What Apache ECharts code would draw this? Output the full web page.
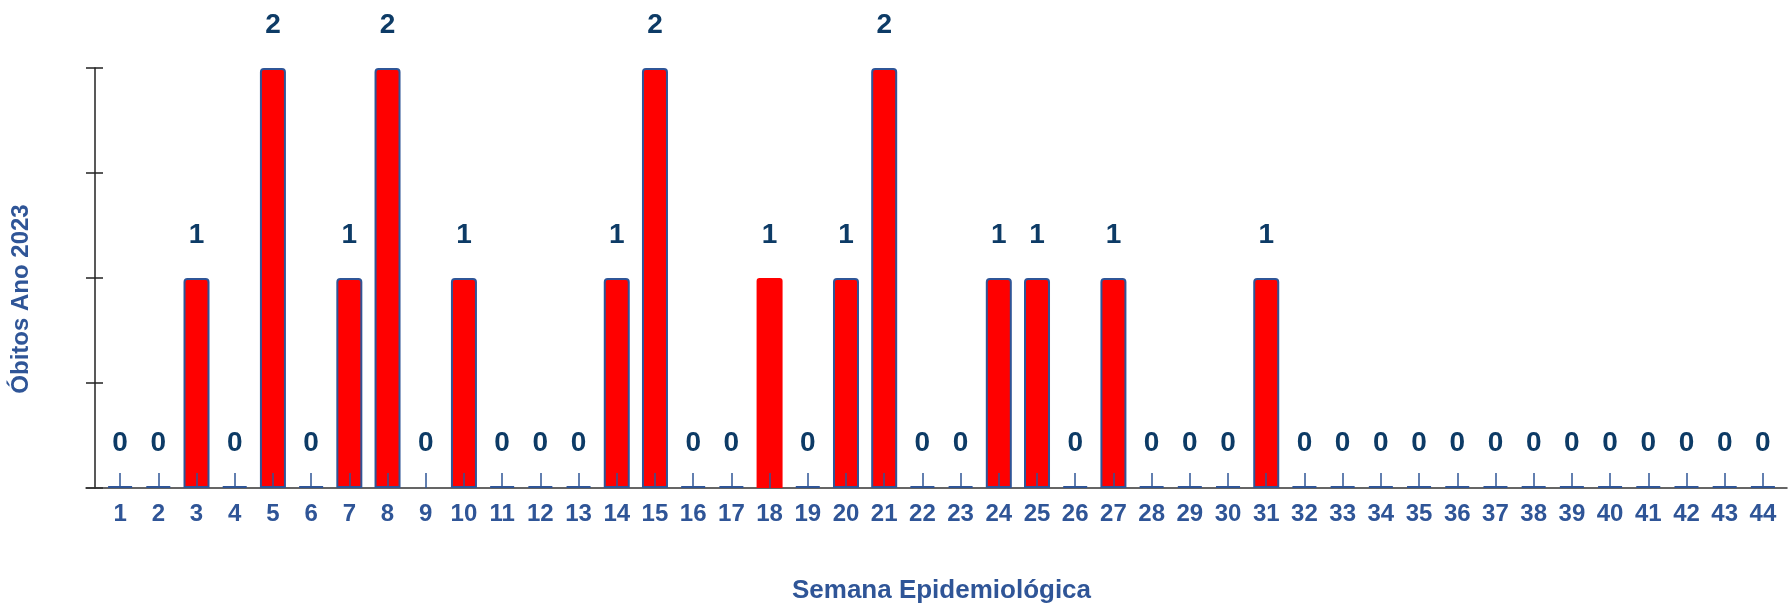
<!DOCTYPE html>
<html>
<head>
<meta charset="utf-8">
<script src="https://cdn.jsdelivr.net/npm/echarts@6/dist/echarts.min.js"></script>
<style>
html,body{margin:0;padding:0;background:#fff;}
#chart{width:1792px;height:603px;}
</style>
</head>
<body>
<div id="chart"></div>
<script>
// ---- data ----
const weeks = ['1','2','3','4','5','6','7','8','9','10','11','12','13','14','15','16','17','18','19','20','21','22','23','24','25','26','27','28','29','30','31','32','33','34','35','36','37','38','39','40','41','42','43','44'];
const deaths = [0,0,1,0,2,0,1,2,0,1,0,0,0,1,2,0,0,1,0,1,2,0,0,1,1,0,1,0,0,0,1,0,0,0,0,0,0,0,0,0,0,0,0,0];
const yTicks = [0, 0.5, 1, 1.5, 2];
const xTitle = 'Semana Epidemiológica';
const yTitle = 'Óbitos Ano 2023';

// weeks drawn without the blue outline in the original
const noOutline = ['9', '18'];

const FONT = '"Liberation Sans", Arial, sans-serif';
const BLUE = '#2F5597';
const NAVY = '#0D3B66';

const chart = echarts.init(document.getElementById('chart'), null, {renderer: 'canvas'});

const barData = deaths.map((v, i) => {
  const d = {value: v};
  if (noOutline.includes(weeks[i])) {
    d.itemStyle = {borderWidth: 0};
    if (v === 0) d.itemStyle.color = 'rgba(0,0,0,0)';
  }
  return d;
});

const yBase = {
  type: 'value',
  gridIndex: 0,
  position: 'left',
  min: yTicks[0],
  max: yTicks[yTicks.length - 1],
  interval: yTicks[1] - yTicks[0],
  offset: 6,
  axisLabel: {show: false},
  splitLine: {show: false}
};

chart.setOption({
  animation: false,
  backgroundColor: '#ffffff',
  grid: [
    {left: 101, right: 10, top: 68, bottom: 115, containLabel: false, outerBoundsMode: 'none'},
    {left: 86, right: 5, top: 68, bottom: 115, containLabel: false, outerBoundsMode: 'none'}
  ],
  xAxis: [
    {
      type: 'category',
      gridIndex: 0,
      data: weeks,
      z: 10,
      axisLine: {show: false},
      axisTick: {show: true, inside: true, length: 15, alignWithLabel: true, lineStyle: {color: BLUE, width: 1.5}},
      axisLabel: {margin: 14, fontSize: 24, fontWeight: 'bold', color: BLUE, fontFamily: FONT, interval: 0},
      name: xTitle,
      nameLocation: 'middle',
      nameGap: 90,
      nameTextStyle: {fontSize: 26, fontWeight: 'bold', color: BLUE, fontFamily: FONT}
    },
    {
      type: 'value',
      gridIndex: 1,
      min: 0,
      max: 1,
      z: 1,
      axisLine: {show: true, lineStyle: {color: '#333333', width: 1.5}},
      axisTick: {show: false},
      axisLabel: {show: false},
      splitLine: {show: false}
    }
  ],
  yAxis: [
    Object.assign({}, yBase, {
      axisLine: {show: true, lineStyle: {color: '#222222', width: 1.5}},
      axisTick: {show: true, inside: false, length: 9, lineStyle: {color: '#222222', width: 1.5}}
    }),
    Object.assign({}, yBase, {
      axisLine: {show: false},
      axisTick: {show: true, inside: true, length: 8, lineStyle: {color: '#222222', width: 1.5}}
    }),
    {
      type: 'value',
      gridIndex: 1,
      show: false,
      min: 0,
      max: 1
    }
  ],
  graphic: [
    {
      type: 'text',
      rotation: Math.PI / 2,
      x: 21,
      y: 299,
      style: {
        text: yTitle,
        fontSize: 24,
        fontWeight: 'bold',
        fill: BLUE,
        fontFamily: FONT,
        align: 'center',
        verticalAlign: 'middle'
      }
    }
  ],
  series: [
    {
      type: 'bar',
      xAxisIndex: 0,
      yAxisIndex: 0,
      z: 2,
      data: barData,
      barWidth: 26,
      barMinHeight: 2,
      itemStyle: {
        color: '#FF0000',
        borderColor: BLUE,
        borderWidth: 2,
        borderRadius: [3, 3, 0, 0]
      },
      label: {
        show: true,
        position: 'top',
        distance: 29,
        fontSize: 28,
        fontWeight: 'bold',
        color: NAVY,
        fontFamily: FONT
      }
    }
  ]
});
</script>
</body>
</html>
